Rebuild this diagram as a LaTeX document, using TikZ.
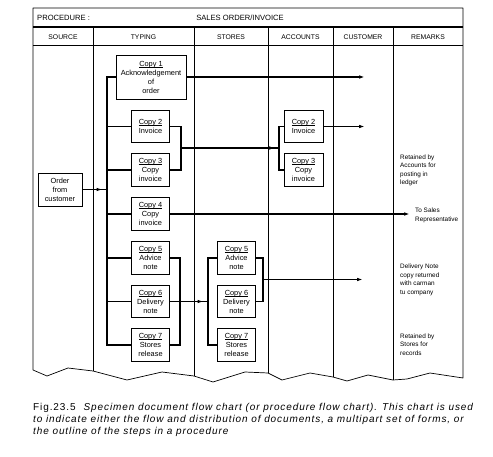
\documentclass[tikz,border=0pt]{standalone}
\usepackage{fontspec}
\setmainfont{Liberation Sans}
\newfontfamily\capfont{Liberation Sans}[LetterSpace=9]
\usetikzlibrary{arrows.meta}
\newcommand{\ulc}[1]{\setbox0\hbox{#1}\rlap{\rule[-1.3pt]{\wd0}{0.5pt}}\box0}
\begin{document}
\begin{tikzpicture}[x=1pt,y=-1pt,
  frame/.style={line width=0.7pt,line join=round},
  conn/.style={line width=1.2pt},
  arr/.style={conn,-{Latex[length=6pt,width=3.6pt]}},
  docbox/.style={draw,line width=0.9pt,minimum width=37.5pt,minimum height=32.5pt,inner sep=0pt,align=center,font=\fontsize{7.4}{9}\selectfont},
  hdr/.style={inner sep=0pt,font=\fontsize{6.8}{8}\selectfont},
  rmk/.style={anchor=north west,align=left,inner sep=0pt,font=\fontsize{6.4}{8.5}\selectfont}]
\useasboundingbox (0,0) rectangle (493,457);

% frame with torn bottom edge
\draw[frame] (33,8) -- (463,8) -- (463,378) -- (430,373) -- (407,379) -- (393,380)
  -- (368,375) -- (347,381) -- (333,377) -- (310,373) -- (282,380) -- (268,373)
  -- (245,372) -- (213,382) -- (194,376) -- (162,372) -- (127,380) -- (93,371)
  -- (68,368) -- (47,376) -- (33,370) -- cycle;
\draw[line width=1.1pt] (33,27) -- (463,27);
\draw[frame] (33,45) -- (463,45);
\draw[frame] (93,27) -- (93,371);
\draw[frame] (194,27) -- (194,376);
\draw[frame] (268,27) -- (268,373);
\draw[frame] (333,27) -- (333,377);
\draw[frame] (393,27) -- (393,380);

% headings
\node[hdr,anchor=west,font=\fontsize{7.6}{9}\selectfont] (proc) at (37,17.5) {PROCEDURE :};
\node[hdr,font=\fontsize{7.6}{9}\selectfont] (title) at (240,17.5) {SALES ORDER/INVOICE};
\node[hdr] (hsource) at (63,37) {SOURCE};
\node[hdr] (htyping) at (143.5,37) {TYPING};
\node[hdr] (hstores) at (231,37) {STORES};
\node[hdr] (haccounts) at (300.5,37) {ACCOUNTS};
\node[hdr] (hcustomer) at (363,37) {CUSTOMER};
\node[hdr] (hremarks) at (428,37) {REMARKS};

% documents
\node[docbox,minimum width=44pt,minimum height=33pt] (ord) at (60,189.5) {Order\\from\\customer};
\node[docbox,minimum width=70pt,minimum height=44pt] (c1) at (151,77) {\ulc{Copy 1}\\Acknowledgement\\of\\order};
\node[docbox] (c2) at (150.5,126.5) {\ulc{Copy 2}\\Invoice};
\node[docbox] (c3) at (150.5,170) {\ulc{Copy 3}\\Copy\\invoice};
\node[docbox] (c4) at (150.5,214) {\ulc{Copy 4}\\Copy\\invoice};
\node[docbox] (c5) at (150.5,258) {\ulc{Copy 5}\\Advice\\note};
\node[docbox] (c6) at (150.5,301.5) {\ulc{Copy 6}\\Delivery\\note};
\node[docbox] (c7) at (150.5,345) {\ulc{Copy 7}\\Stores\\release};
\node[docbox,minimum width=39pt] (a2) at (303.5,126.5) {\ulc{Copy 2}\\Invoice};
\node[docbox,minimum width=39pt] (a3) at (303.5,170) {\ulc{Copy 3}\\Copy\\invoice};
\node[docbox] (s5) at (236.5,258) {\ulc{Copy 5}\\Advice\\note};
\node[docbox] (s6) at (236.5,301.5) {\ulc{Copy 6}\\Delivery\\note};
\node[docbox] (s7) at (236.5,345) {\ulc{Copy 7}\\Stores\\release};

% remarks
\node[rmk] (r1) at (400,154.5) {Retained by\\Accounts for\\posting in\\ledger};
\node[rmk] (r2) at (415,208) {To Sales\\Representative};
\node[rmk] (r3) at (400,264) {Delivery Note\\copy returned\\with carman\\tu company};
\node[rmk] (r4) at (400,333.5) {Retained by\\Stores for\\records};

% coordinates
\coordinate (bus) at (107,77);
\coordinate (ordtip) at (102.5,189.5);
\coordinate (b23) at (181,148);
\coordinate (ab) at (279,148);
\coordinate (abtip) at (275,148);
\coordinate (b57) at (180,301.5);
\coordinate (sb) at (208,301.5);
\coordinate (sbtip) at (203.5,301.5);
\coordinate (sr) at (263,279.5);
\coordinate (t1) at (365,77);
\coordinate (t2) at (365,126.5);
\coordinate (t4) at (410,214);
\coordinate (t6) at (363,279.5);

% typing bus
\draw[conn] (c1.west) -- (bus) -- (bus |- c7.west) -- (c7.west);
\draw[conn] (bus |- c2.west) -- (c2.west);
\draw[conn] (bus |- c3.west) -- (c3.west);
\draw[conn] (bus |- c4.west) -- (c4.west);
\draw[conn] (bus |- c5.west) -- (c5.west);
\draw[conn] (bus |- c6.west) -- (c6.west);
\draw[conn] (ord.east) -- (bus |- ord.east);
\draw[arr] (ord.east) -- (ordtip);

% copy 1
\draw[arr] (c1.east) -- (t1);

% copies 2 and 3 to accounts
\draw[conn] (c2.east) -- (c2.east -| b23) -- (c3.east -| b23) -- (c3.east);
\draw[conn] (b23) -- (ab);
\draw[arr] (b23) -- (abtip);
\draw[conn] (a2.west) -- (a2.west -| ab) -- (a3.west -| ab) -- (a3.west);
\draw[arr] (a2.east) -- (t2);

% copy 4
\draw[arr] (c4.east) -- (t4);

% copies 5-7 to stores
\draw[conn] (c5.east) -- (c5.east -| b57) -- (c7.east -| b57) -- (c7.east);
\draw[conn] (c6.east) -- (sb);
\draw[arr] (c6.east) -- (sbtip);
\draw[conn] (s5.west) -- (s5.west -| sb) -- (s7.west -| sb) -- (s7.west);
\draw[conn] (s5.east) -- (s5.east -| sr) -- (s6.east -| sr) -- (s6.east);
\draw[arr] (sr) -- (t6);

% caption
\node[anchor=north west,inner sep=0pt,align=left,font=\capfont\fontsize{10}{11.6}\selectfont] (cap) at (33,403.5)
 {Fig.23.5\hspace{8pt}\textit{Specimen document flow chart (or procedure flow chart). This chart is used}\\
  \textit{to indicate either the flow and distribution of documents, a multipart set of forms, or}\\
  \textit{the outline of the steps in a procedure}};
\end{tikzpicture}
\end{document}
